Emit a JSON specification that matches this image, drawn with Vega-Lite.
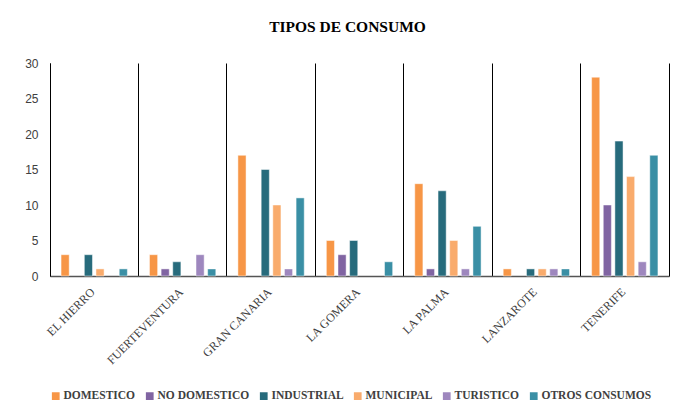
{
  "$schema": "https://vega.github.io/schema/vega-lite/v6.json",
  "autosize": {"type": "none"},
  "width": 619,
  "height": 213,
  "padding": {"left": 50, "top": 63, "right": 7, "bottom": 134},
  "background": "white",
  "title": {
    "text": "TIPOS DE CONSUMO",
    "font": "Liberation Serif",
    "fontSize": 15.5,
    "fontWeight": "bold",
    "color": "#000000",
    "anchor": "middle",
    "offset": 22,
    "dx": -12
  },
  "data": {
    "values": [
      {"isla": "EL HIERRO", "tipo": "DOMESTICO", "valor": 3},
      {"isla": "EL HIERRO", "tipo": "NO DOMESTICO", "valor": 0},
      {"isla": "EL HIERRO", "tipo": "INDUSTRIAL", "valor": 3},
      {"isla": "EL HIERRO", "tipo": "MUNICIPAL", "valor": 1},
      {"isla": "EL HIERRO", "tipo": "TURISTICO", "valor": 0},
      {"isla": "EL HIERRO", "tipo": "OTROS CONSUMOS", "valor": 1},
      {"isla": "FUERTEVENTURA", "tipo": "DOMESTICO", "valor": 3},
      {"isla": "FUERTEVENTURA", "tipo": "NO DOMESTICO", "valor": 1},
      {"isla": "FUERTEVENTURA", "tipo": "INDUSTRIAL", "valor": 2},
      {"isla": "FUERTEVENTURA", "tipo": "MUNICIPAL", "valor": 0},
      {"isla": "FUERTEVENTURA", "tipo": "TURISTICO", "valor": 3},
      {"isla": "FUERTEVENTURA", "tipo": "OTROS CONSUMOS", "valor": 1},
      {"isla": "GRAN CANARIA", "tipo": "DOMESTICO", "valor": 17},
      {"isla": "GRAN CANARIA", "tipo": "NO DOMESTICO", "valor": 0},
      {"isla": "GRAN CANARIA", "tipo": "INDUSTRIAL", "valor": 15},
      {"isla": "GRAN CANARIA", "tipo": "MUNICIPAL", "valor": 10},
      {"isla": "GRAN CANARIA", "tipo": "TURISTICO", "valor": 1},
      {"isla": "GRAN CANARIA", "tipo": "OTROS CONSUMOS", "valor": 11},
      {"isla": "LA GOMERA", "tipo": "DOMESTICO", "valor": 5},
      {"isla": "LA GOMERA", "tipo": "NO DOMESTICO", "valor": 3},
      {"isla": "LA GOMERA", "tipo": "INDUSTRIAL", "valor": 5},
      {"isla": "LA GOMERA", "tipo": "MUNICIPAL", "valor": 0},
      {"isla": "LA GOMERA", "tipo": "TURISTICO", "valor": 0},
      {"isla": "LA GOMERA", "tipo": "OTROS CONSUMOS", "valor": 2},
      {"isla": "LA PALMA", "tipo": "DOMESTICO", "valor": 13},
      {"isla": "LA PALMA", "tipo": "NO DOMESTICO", "valor": 1},
      {"isla": "LA PALMA", "tipo": "INDUSTRIAL", "valor": 12},
      {"isla": "LA PALMA", "tipo": "MUNICIPAL", "valor": 5},
      {"isla": "LA PALMA", "tipo": "TURISTICO", "valor": 1},
      {"isla": "LA PALMA", "tipo": "OTROS CONSUMOS", "valor": 7},
      {"isla": "LANZAROTE", "tipo": "DOMESTICO", "valor": 1},
      {"isla": "LANZAROTE", "tipo": "NO DOMESTICO", "valor": 0},
      {"isla": "LANZAROTE", "tipo": "INDUSTRIAL", "valor": 1},
      {"isla": "LANZAROTE", "tipo": "MUNICIPAL", "valor": 1},
      {"isla": "LANZAROTE", "tipo": "TURISTICO", "valor": 1},
      {"isla": "LANZAROTE", "tipo": "OTROS CONSUMOS", "valor": 1},
      {"isla": "TENERIFE", "tipo": "DOMESTICO", "valor": 28},
      {"isla": "TENERIFE", "tipo": "NO DOMESTICO", "valor": 10},
      {"isla": "TENERIFE", "tipo": "INDUSTRIAL", "valor": 19},
      {"isla": "TENERIFE", "tipo": "MUNICIPAL", "valor": 14},
      {"isla": "TENERIFE", "tipo": "TURISTICO", "valor": 2},
      {"isla": "TENERIFE", "tipo": "OTROS CONSUMOS", "valor": 17}
    ]
  },
  "layer": [
    {
      "transform": [{"filter": "datum.valor > 0"}],
      "mark": {"type": "bar", "stroke": "#ffffff", "strokeOpacity": 0.6, "strokeWidth": 0.8},
      "encoding": {
        "x": {
          "field": "isla",
          "type": "nominal",
          "sort": ["EL HIERRO", "FUERTEVENTURA", "GRAN CANARIA", "LA GOMERA", "LA PALMA", "LANZAROTE", "TENERIFE"],
          "scale": {"paddingInner": 0, "paddingOuter": 0},
          "axis": {
            "title": null,
            "bandPosition": 0,
            "grid": true,
            "gridColor": "#000000",
            "gridOpacity": 1,
            "gridWidth": 1,
            "ticks": false,
            "domain": true,
            "domainColor": "#555555",
            "domainWidth": 1.5,
            "labelAngle": -45,
            "labelAlign": "right",
            "labelBaseline": "top",
            "labelOffset": -5,
            "labelPadding": 10,
            "labelFont": "Liberation Serif",
            "labelFontSize": 12,
            "labelColor": "#404040",
            "labelOverlap": false
          }
        },
        "xOffset": {
          "field": "tipo",
          "type": "nominal",
          "scale": {
            "domain": ["DOMESTICO", "NO DOMESTICO", "INDUSTRIAL", "MUNICIPAL", "TURISTICO", "OTROS CONSUMOS"],
            "paddingInner": 0.3,
            "paddingOuter": 0.95
          }
        },
        "y": {
          "field": "valor",
          "type": "quantitative",
          "scale": {"domain": [0, 30], "nice": false},
          "axis": {
            "title": null,
            "values": [0, 5, 10, 15, 20, 25, 30],
            "grid": false,
            "ticks": false,
            "domain": true,
            "domainColor": "#000000",
            "labelFont": "Liberation Sans",
            "labelFontSize": 12,
            "labelColor": "#404040",
            "labelPadding": 12
          }
        },
        "color": {
          "field": "tipo",
          "type": "nominal",
          "scale": {
            "domain": ["DOMESTICO", "NO DOMESTICO", "INDUSTRIAL", "MUNICIPAL", "TURISTICO", "OTROS CONSUMOS"],
            "range": ["#F79646", "#8064A2", "#276B7C", "#F9AB6C", "#9E87BE", "#3A8FA5"]
          },
          "legend": {
            "title": null,
            "orient": "bottom",
            "direction": "horizontal",
            "symbolType": "square",
            "symbolSize": 60,
            "symbolStrokeWidth": 0,
            "labelFont": "Liberation Serif",
            "labelFontSize": 11.5,
            "labelFontWeight": "bold",
            "labelColor": "#404040",
            "labelOffset": 2,
            "columnPadding": 8,
            "offset": 24
          }
        }
      }
    },
    {
      "mark": {"type": "tick", "opacity": 0},
      "encoding": {
        "y": {
          "field": "valor",
          "type": "quantitative",
          "axis": {
            "orient": "right",
            "title": null,
            "labels": false,
            "ticks": false,
            "grid": false,
            "domain": true,
            "domainColor": "#000000"
          }
        }
      }
    }
  ],
  "resolve": {"axis": {"y": "independent"}},
  "config": {"view": {"stroke": null}}
}
